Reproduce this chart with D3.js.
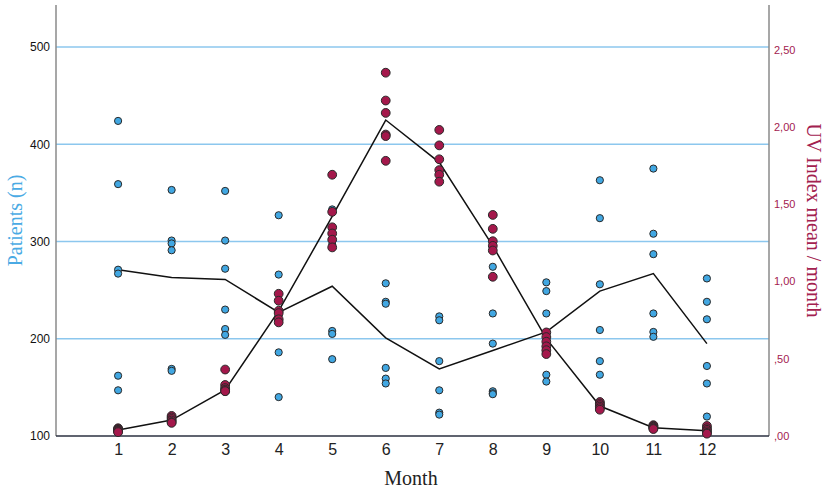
<!DOCTYPE html>
<html lang="en">
<head>
    <meta charset="UTF-8">
    <title>Patients and UV index by month</title>
    <style>
        body { margin: 0; background: #fff; }
        svg { display: block; }
    </style>
</head>
<body>
    <svg width="827" height="488"></svg>
    <script src="https://d3js.org/d3.v7.min.js"></script>
    <script>
        // data
        var months = [1, 2, 3, 4, 5, 6, 7, 8, 9, 10, 11, 12];

        var patientsByMonth = [
            [424, 359, 271, 267, 162, 147],
            [353, 301, 298, 291, 169, 167],
            [352, 301, 272, 230, 210, 204],
            [327, 266, 224, 219, 186, 140],
            [333, 302, 297, 208, 205, 179],
            [257, 238, 236, 170, 159, 154],
            [223, 219, 177, 147, 124, 122],
            [274, 226, 195, 146, 144, 143],
            [258, 249, 226, 185, 163, 156],
            [363, 324, 256, 209, 177, 163],
            [375, 308, 287, 226, 207, 202],
            [262, 238, 220, 172, 154, 120]
        ];

        var uvByMonth = [
            [0.05, 0.045, 0.04, 0.035, 0.03, 0.025],
            [0.13, 0.12, 0.11, 0.10, 0.09, 0.085],
            [0.43, 0.33, 0.31, 0.30, 0.29, 0.29],
            [0.92, 0.875, 0.81, 0.795, 0.755, 0.735],
            [1.69, 1.45, 1.35, 1.31, 1.27, 1.22],
            [2.35, 2.17, 2.09, 1.95, 1.94, 1.78],
            [1.98, 1.88, 1.79, 1.72, 1.69, 1.645],
            [1.43, 1.34, 1.26, 1.23, 1.20, 1.03],
            [0.67, 0.64, 0.61, 0.58, 0.555, 0.53],
            [0.22, 0.21, 0.20, 0.19, 0.18, 0.17],
            [0.07, 0.065, 0.06, 0.055, 0.05, 0.045],
            [0.065, 0.05, 0.04, 0.03, 0.02, 0.015]
        ];

        var patientsMean = [271, 263, 261, 227, 254, 201, 169, 188, 207, 249, 267, 195];
        var uvMean = [0.039, 0.103, 0.298, 0.809, 1.42, 2.044, 1.77, 1.23, 0.63, 0.194, 0.054, 0.034];

        var leftTicks = [100, 200, 300, 400, 500];
        var rightTicks = [0, 0.5, 1, 1.5, 2, 2.5];

        var svg = d3.select("svg");
        // plot box (window.top is read-only, so no plain "top")
        var plotL = 56, plotR = 769, plotT = 5, plotB = 436;

        var x = d3.scaleLinear().domain([-0.16, 13.16]).range([plotL, plotR]);
        var yP = d3.scaleLinear().domain([100, 543.2]).range([plotB, plotT]);
        var yUV = d3.scaleLinear().domain([0, 2.788]).range([plotB, plotT]);

        var blue = "#41a7e2", red = "#a4184b", redText = "#a3214f";
        var sans = "'Liberation Sans', Arial, sans-serif";
        var serif = "'Liberation Serif', 'Times New Roman', serif";

        // gridlines from the left axis
        svg.append("g")
            .selectAll("line")
            .data(leftTicks.slice(1))
            .enter().append("line")
            .attr("x1", plotL).attr("x2", plotR)
            .attr("y1", function(d) { return yP(d); })
            .attr("y2", function(d) { return yP(d); })
            .attr("stroke", "#8cc7ee")
            .attr("stroke-width", 1.5);

        // left axis
        var gl = svg.append("g")
            .attr("transform", "translate(" + plotL + ",0)")
            .call(d3.axisLeft(yP).tickValues(leftTicks).tickSize(0).tickPadding(6));
        gl.select(".domain").attr("stroke", "#8a8a8a").attr("stroke-width", 1.5)
            .attr("d", "M0," + plotT + "V" + plotB);
        gl.selectAll("text").attr("font-family", sans).attr("font-size", 12).attr("fill", "#111");

        // right axis, SPSS style comma decimals
        var gr = svg.append("g")
            .attr("transform", "translate(" + plotR + ",0)")
            .call(d3.axisRight(yUV).tickValues(rightTicks).tickSize(0).tickPadding(5)
                .tickFormat(function(d) { return d3.format(".2f")(d).replace(/^0/, "").replace(".", ","); }));
        gr.select(".domain").attr("stroke", "#8a8a8a").attr("stroke-width", 1.5)
            .attr("d", "M0," + plotT + "V" + plotB);
        gr.selectAll("text").attr("font-family", sans).attr("font-size", 11).attr("fill", redText);

        // bottom axis
        var gb = svg.append("g")
            .attr("transform", "translate(0," + plotB + ")")
            .call(d3.axisBottom(x).tickValues(months).tickSize(0).tickPadding(8));
        gb.select(".domain").attr("stroke", "#2b3040").attr("stroke-width", 1.5)
            .attr("d", "M" + plotL + ",0H" + plotR);
        gb.selectAll("text").attr("font-family", sans).attr("font-size", 16).attr("fill", "#222");

        // axis titles
        svg.append("text")
            .attr("transform", "translate(22," + ((plotT + plotB) / 2) + ") rotate(-90)")
            .attr("text-anchor", "middle")
            .attr("font-family", serif).attr("font-size", 20)
            .attr("fill", "#4aaae4")
            .text("Patients (n)");

        svg.append("text")
            .attr("transform", "translate(807," + ((plotT + plotB) / 2) + ") rotate(90)")
            .attr("text-anchor", "middle")
            .attr("font-family", serif).attr("font-size", 20)
            .attr("fill", redText)
            .text("UV Index mean / month");

        svg.append("text")
            .attr("x", 411).attr("y", 485)
            .attr("text-anchor", "middle")
            .attr("font-family", serif).attr("font-size", 20)
            .attr("fill", "#222")
            .text("Month");

        // mean lines
        var linePatients = d3.line()
            .x(function(d, i) { return x(months[i]); })
            .y(function(d) { return yP(d); });
        var lineUV = d3.line()
            .x(function(d, i) { return x(months[i]); })
            .y(function(d) { return yUV(d); });

        svg.append("path").datum(patientsMean)
            .attr("d", linePatients)
            .attr("fill", "none").attr("stroke", "#111").attr("stroke-width", 1.5);
        svg.append("path").datum(uvMean)
            .attr("d", lineUV)
            .attr("fill", "none").attr("stroke", "#111").attr("stroke-width", 1.5);

        // points, flattened to (month, value)
        var patientPts = [], uvPts = [];
        months.forEach(function(m, i) {
            patientsByMonth[i].forEach(function(v) { patientPts.push({ m: m, v: v }); });
            uvByMonth[i].forEach(function(v) { uvPts.push({ m: m, v: v }); });
        });

        svg.append("g")
            .selectAll("circle")
            .data(patientPts)
            .enter().append("circle")
            .attr("cx", function(d) { return x(d.m); })
            .attr("cy", function(d) { return yP(d.v); })
            .attr("r", 3.6)
            .attr("fill", blue)
            .attr("stroke", "#2a2a2a")
            .attr("stroke-width", 1);

        svg.append("g")
            .selectAll("circle")
            .data(uvPts)
            .enter().append("circle")
            .attr("cx", function(d) { return x(d.m); })
            .attr("cy", function(d) { return yUV(d.v); })
            .attr("r", 4.4)
            .attr("fill", red)
            .attr("stroke", "#2a2a2a")
            .attr("stroke-width", 1);
    </script>
</body>
</html>
